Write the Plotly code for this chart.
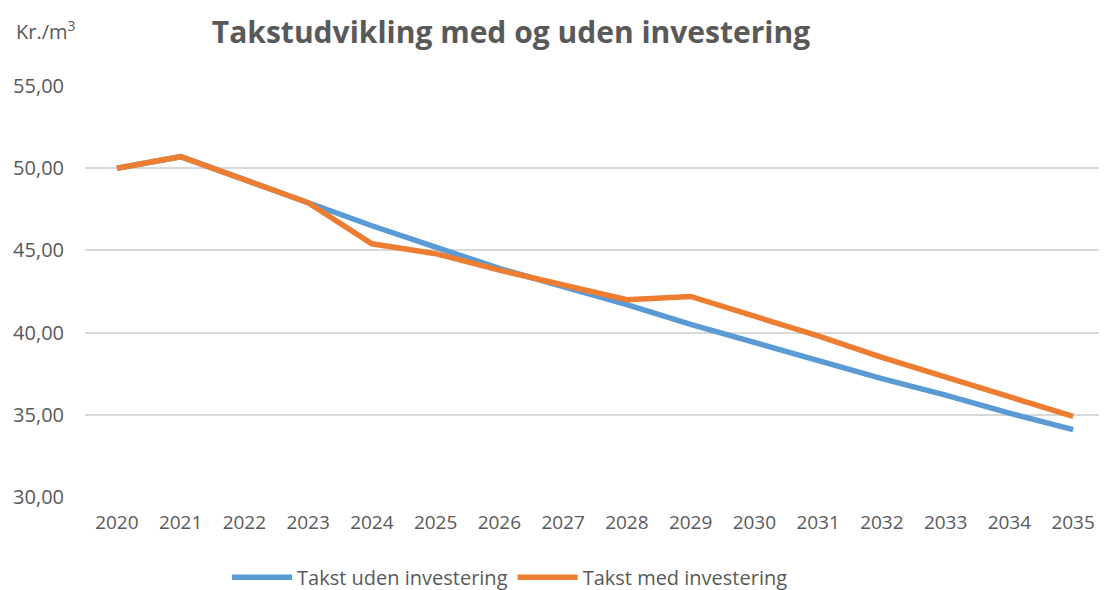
import plotly.graph_objects as go

years = [str(y) for y in range(2020, 2036)]
uden = [50.0, 50.7, 49.3, 47.9, 46.5, 45.2, 43.9, 42.8, 41.7, 40.5, 39.4, 38.3, 37.2, 36.2, 35.1, 34.1]
med = [50.0, 50.7, 49.3, 47.9, 45.4, 44.8, 43.8, 42.9, 42.0, 42.2, 41.0, 39.8, 38.5, 37.3, 36.1, 34.9]

grey = "#595959"
fig = go.Figure()
fig.add_trace(go.Scatter(x=years, y=uden, mode="lines", name="Takst uden investering",
                         line=dict(color="#5B9BD5", width=5.5)))
fig.add_trace(go.Scatter(x=years, y=med, mode="lines", name="Takst med investering",
                         line=dict(color="#ED7D31", width=5.5)))

fig.update_layout(
    width=1107, height=590,
    paper_bgcolor="white", plot_bgcolor="white",
    separators=",.",
    margin=dict(l=77, r=10, t=78, b=101, autoexpand=False),
    font=dict(family="Open Sans, Liberation Sans, sans-serif", color=grey, size=16),
    title=dict(text="<b>Takstudvikling med og uden investering</b>", x=0.4544, xanchor="center",
               y=0.959, yanchor="middle",
               font=dict(size=30, color=grey, family="Open Sans, sans-serif")),
    legend=dict(orientation="h", x=0.4167, xanchor="center", y=-0.195, yanchor="middle",
                font=dict(size=20, color=grey), itemwidth=60),
    xaxis=dict(type="category", range=[-0.5, 15.5], showgrid=False, zeroline=False,
               showline=False, ticks="", ticklabelstandoff=12,
               tickfont=dict(size=19, color=grey)),
    yaxis=dict(range=[30, 55], dtick=5, tickformat=".2f", showgrid=True,
               gridcolor="#D9D9D9", gridwidth=2, zeroline=False, showline=False,
               ticks="", ticklabelstandoff=20, tickfont=dict(size=20, color=grey)),
    annotations=[dict(text="Kr./m<sup>3</sup>", xref="paper", yref="paper", x=-0.0696,
                      y=1.136, xanchor="left", yanchor="middle", showarrow=False,
                      font=dict(size=20, color=grey))],
)
fig.write_html("out.html")
